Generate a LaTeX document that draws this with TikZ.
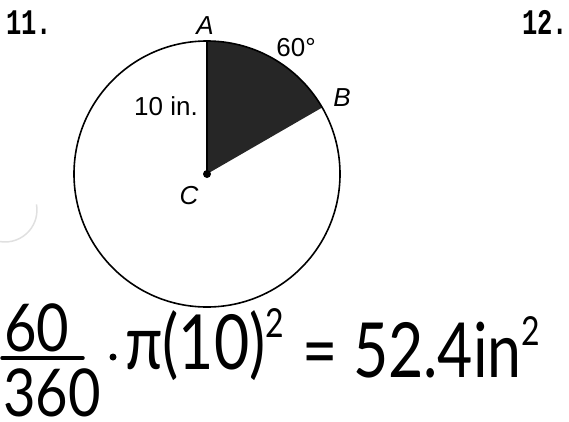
\documentclass[tikz,border=0pt]{standalone}
\usepackage{fontspec}
\setmainfont{Liberation Sans}
\newfontfamily\numfont{Liberation Mono}
\newfontfamily\handfont{Lato}
\usetikzlibrary{positioning, calc}

\begin{document}
\begin{tikzpicture}[x=1pt, y=1pt,
    lbl/.style={inner sep=0pt, font=\fontsize{26}{28}\selectfont},
    ptlbl/.style={lbl, font=\fontsize{26}{28}\selectfont\itshape},
    probno/.style={inner sep=0pt, font=\fontsize{30}{32}\numfont\bfseries},
    hand/.style={inner sep=0pt, font=\fontsize{76}{80}\handfont},
    fracpart/.style={inner sep=0pt, font=\fontsize{66}{70}\handfont}]
    \useasboundingbox (0,0) rectangle (569,-421);

    % problem numbers
    \node[probno] (no11) at (29,-23) {\scalebox{0.85}[1.2]{11.}};
    \node[probno] (no12) at (545,-22) {\scalebox{0.85}[1.2]{12.}};

    % circle with shaded sector
    \coordinate (C) at (207,-174);
    \coordinate (A) at (207,-41);
    \coordinate (B) at ($(C)+(30:133)$);
    \fill[black!85] (C) -- (A) arc[start angle=90, end angle=30, radius=133] -- cycle;
    \draw[line width=1.6pt] (C) circle (133);
    \draw[line width=1.2pt] (C) -- (A);
    \fill (C) circle (4);

    \node[ptlbl] (labA) at (205,-26) {A};
    \node[ptlbl] (labB) at (342,-98) {B};
    \node[ptlbl] (labC) at (189,-196) {C};
    \node[lbl] (angle) at (296,-48) {60°};
    \node[lbl] (radius) at (166,-106) {10 in.};

    % faint scan mark
    \draw[black!12, line width=1.5pt] (-0.6,-241.5) arc[start angle=-100, end angle=10, radius=32];

    % handwritten working
    \node[fracpart, anchor=base] (num) at (37,-351) {\scalebox{0.85}[1]{60}};
    \node[fracpart, anchor=base] (den) at (52,-416) {\scalebox{0.85}[1]{360}};
    \draw[line width=3.5pt, line cap=round] (2,-358) -- (83,-358);
    \fill (113,-357) circle (3.5);
    \node[hand, anchor=base west] (area) at (125,-369)
        {\scalebox{0.8}[1]{π(10)\raisebox{0.42em}{\fontsize{40}{44}\selectfont 2}}};
    \node[hand, anchor=base west] (result) at (302,-377)
        {\scalebox{0.8}[1]{= 52.4in\raisebox{0.42em}{\fontsize{40}{44}\selectfont 2}}};
\end{tikzpicture}
\end{document}
